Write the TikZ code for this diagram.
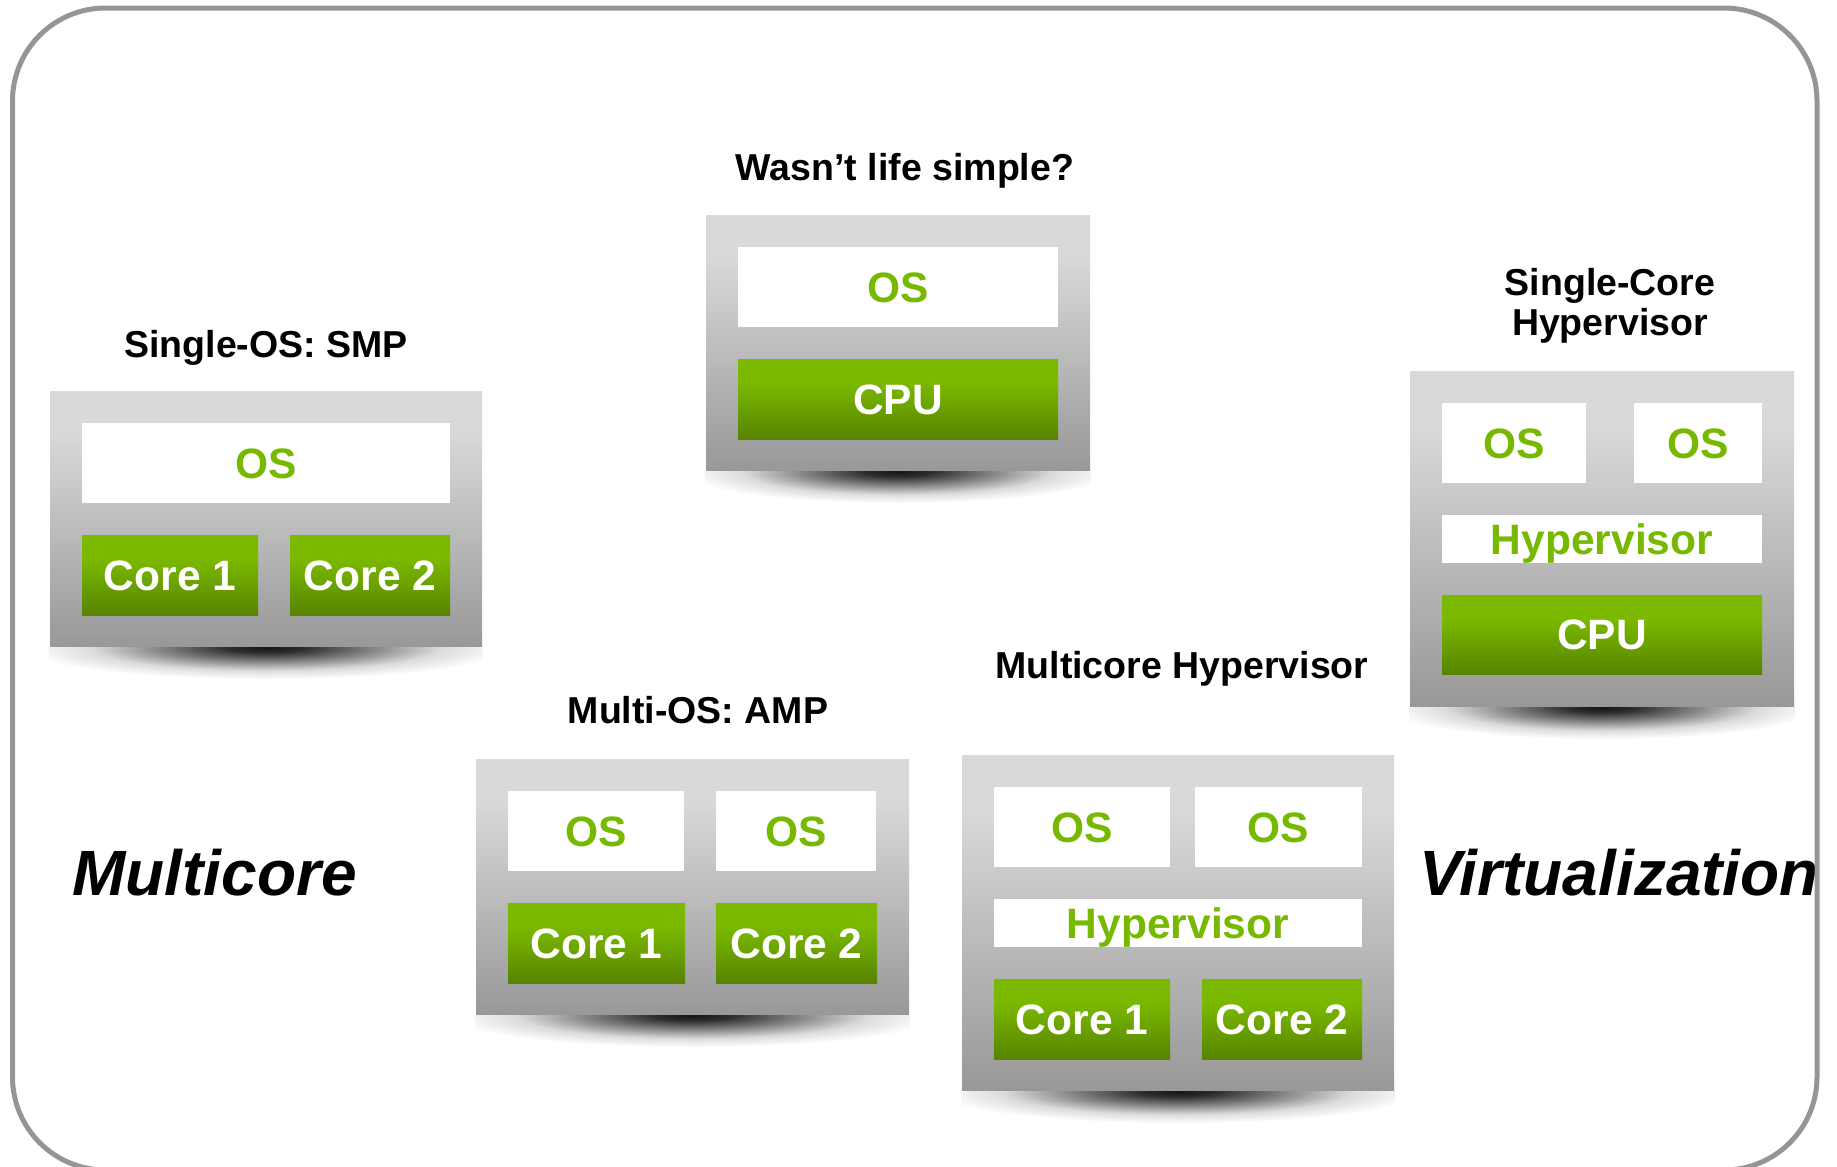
\documentclass[tikz,border=0pt]{standalone}
\usepackage{fontspec}
\setmainfont{Liberation Sans}
\usetikzlibrary{calc}

\definecolor{framegray}{RGB}{147,149,152}
\definecolor{nvgreen}{RGB}{118,185,0}
\definecolor{gtop}{RGB}{123,184,0}
\definecolor{gbot}{RGB}{86,132,0}
\definecolor{ptop}{RGB}{217,217,217}
\definecolor{pbot}{RGB}{152,152,152}

% panel background, green hardware bar, soft shadow under each panel
% (the path's bounding box covers 25bp..75bp of a vertical shading and radius 25bp of a radial one)
\pgfdeclareverticalshading{panelfill}{100bp}{color(0bp)=(pbot); color(25bp)=(pbot); color(67bp)=(ptop); color(100bp)=(ptop)}
\pgfdeclareverticalshading{greenbar}{100bp}{color(0bp)=(gbot); color(25bp)=(gbot); color(60bp)=(gtop); color(100bp)=(gtop)}
\pgfdeclareradialshading{boxshadow}{\pgfpoint{0bp}{0bp}}{color(0bp)=(black!92); color(4bp)=(black!82); color(11bp)=(black!48); color(18bp)=(black!14); color(23bp)=(black!4); color(25bp)=(white); color(50bp)=(white)}

% a rectangular layer given by its corners (in pixel units) and its label
\newcommand\layer[7]{%
  \pgfmathsetmacro\lyrw{0.5*(#5-#3)}%
  \pgfmathsetmacro\lyrh{0.5*(#6-#4)}%
  \node[#1,minimum width=\lyrw pt,minimum height=\lyrh pt] (#2) at ({0.5*(#3+#5)},{0.5*(#4+#6)}) {#7};}

% shadow cast below a panel
\newcommand\dropshadow[1]{%
  \begin{scope}
    \clip (#1.south west) rectangle ($(#1.south east)+(0,34)$);
    \shade[shading=boxshadow] let \p1=($(#1.east)-(#1.west)$) in
      (#1.south) ellipse [x radius={0.56*\x1}, y radius=16pt];
  \end{scope}}

\begin{document}
\begin{tikzpicture}[x=0.5pt,y=-0.5pt,
  panel/.style={shade,shading=panelfill,inner sep=0pt},
  soft/.style={fill=white,text=nvgreen,inner sep=0pt,
    font=\fontsize{21.25}{24}\selectfont\bfseries,text height=15.2pt,text depth=0pt},
  hard/.style={shade,shading=greenbar,text=white,inner sep=0pt,
    font=\fontsize{21.25}{24}\selectfont\bfseries,text height=15.2pt,text depth=0pt},
  heading/.style={font=\fontsize{18.75}{20}\selectfont\bfseries,inner sep=0pt,anchor=base},
  bigword/.style={font=\fontsize{32}{36}\selectfont\bfseries\itshape,inner sep=0pt,anchor=base west}]
\useasboundingbox (0,0) rectangle (1837,1167);

% single CPU
\layer{panel}{simple}{706}{215}{1090}{471}{}
\dropshadow{simple}
\layer{soft}{simpleos}{738}{247}{1058}{327}{OS}
\layer{hard}{simplecpu}{738}{359}{1058}{439}{CPU}
\node[heading] (simplettl) at (905,180) {Wasn’t life simple?};

% SMP
\layer{panel}{smp}{50}{391}{482}{647}{}
\dropshadow{smp}
\layer{soft}{smpos}{82}{423}{450}{503}{OS}
\layer{hard}{smpcoreA}{82}{535}{258}{615}{Core 1}
\layer{hard}{smpcoreB}{290}{535}{450}{615}{Core 2}
\node[heading] (smpttl) at (266,357) {Single-OS: SMP};

% AMP
\layer{panel}{amp}{476}{759}{909}{1015}{}
\dropshadow{amp}
\layer{soft}{amposA}{508}{791}{684}{871}{OS}
\layer{soft}{amposB}{716}{791}{876}{871}{OS}
\layer{hard}{ampcoreA}{508}{903}{685}{983}{Core 1}
\layer{hard}{ampcoreB}{716}{903}{877}{983}{Core 2}
\node[heading] (ampttl) at (698,723) {Multi-OS: AMP};

% multicore hypervisor
\layer{panel}{mhv}{962}{755}{1394}{1091}{}
\dropshadow{mhv}
\layer{soft}{mhvosA}{994}{787}{1170}{867}{OS}
\layer{soft}{mhvosB}{1195}{787}{1362}{867}{OS}
\layer{soft}{mhvhyp}{994}{899}{1362}{947}{Hypervisor}
\layer{hard}{mhvcoreA}{994}{979}{1170}{1059}{Core 1}
\layer{hard}{mhvcoreB}{1202}{979}{1362}{1059}{Core 2}
\node[heading] (mhvttl) at (1182,678) {Multicore Hypervisor};

% single-core hypervisor
\layer{panel}{shv}{1410}{371}{1794}{707}{}
\dropshadow{shv}
\layer{soft}{shvosA}{1442}{403}{1586}{483}{OS}
\layer{soft}{shvosB}{1634}{403}{1762}{483}{OS}
\layer{soft}{shvhyp}{1442}{515}{1762}{563}{Hypervisor}
\layer{hard}{shvcpu}{1442}{595}{1762}{674}{CPU}
\node[heading,anchor=north,align=center] (shvttl) at (1610,268) {Single-Core\\Hypervisor};

% category words
\node[bigword] (multicore) at (72,895) {Multicore};
\node[bigword] (virt) at (1419,895) {Virtualization};

% outer frame
\draw[line width=2.5pt,color=framegray,rounded corners=46.5pt] (12.5,8) rectangle (1817,1170);
\end{tikzpicture}
\end{document}
